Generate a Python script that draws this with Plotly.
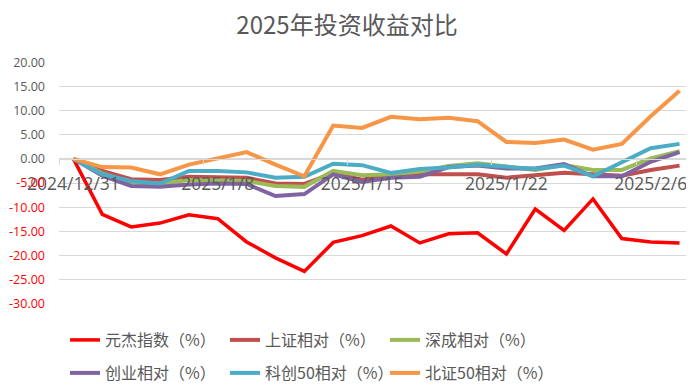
import plotly.graph_objects as go

dates = ["2024/12/31", "2025/1/2", "2025/1/3", "2025/1/6", "2025/1/7", "2025/1/8",
         "2025/1/9", "2025/1/10", "2025/1/13", "2025/1/14", "2025/1/15", "2025/1/16",
         "2025/1/17", "2025/1/20", "2025/1/21", "2025/1/22", "2025/1/23", "2025/1/24",
         "2025/1/27", "2025/2/5", "2025/2/6", "2025/2/7"]

yuanjie = [0, -11.5, -14.1, -13.3, -11.6, -12.4, -17.2, -20.5, -23.3, -17.3, -15.9,
           -13.9, -17.4, -15.5, -15.3, -19.7, -10.4, -14.8, -8.3, -16.5, -17.2, -17.4]
shangzheng = [0, -2.5, -4.2, -4.4, -3.7, -3.7, -3.9, -5.1, -5.2, -3.0, -4.3,
              -3.5, -3.2, -3.2, -3.2, -3.9, -3.5, -2.9, -3.2, -3.5, -2.3, -1.4]
shencheng = [0, -3.0, -4.9, -5.1, -4.4, -4.4, -4.6, -5.6, -5.8, -2.5, -3.4,
             -3.2, -2.6, -1.5, -0.9, -1.6, -2.3, -1.3, -2.3, -2.3, 0.1, 1.6]
chuangye = [0, -3.5, -5.6, -5.8, -5.3, -5.1, -5.2, -7.7, -7.3, -3.2, -4.8,
            -3.9, -3.7, -1.7, -1.4, -2.0, -2.0, -1.1, -3.6, -3.6, -0.6, 1.4]
kechuang50 = [0, -3.2, -4.6, -5.1, -2.5, -2.5, -2.8, -3.9, -3.7, -1.0, -1.3,
              -2.9, -2.1, -1.8, -1.2, -1.6, -2.1, -1.4, -3.6, -0.7, 2.2, 3.1]
beizheng50 = [0, -1.7, -1.8, -3.2, -1.2, 0.0, 1.4, -1.2, -3.6, 6.9, 6.4,
              8.7, 8.2, 8.5, 7.8, 3.5, 3.3, 4.0, 1.9, 3.1, 8.8, 14.1]

series_names = ["元杰指数（%）", "上证相对（%）", "深成相对（%）",
                "创业相对（%）", "科创50相对（%）", "北证50相对（%）"]
series_values = [yuanjie, shangzheng, shencheng, chuangye, kechuang50, beizheng50]
colors = ["#FF0000", "#C0504D", "#9BBB59", "#8064A2", "#4BACC6", "#F79646"]
widths = [3.5, 4, 4, 4, 4, 4]
legends = ["legend", "legend", "legend", "legend2", "legend2", "legend2"]

y_ticks = [20, 15, 10, 5, 0, -5, -10, -15, -20, -25, -30]
x_label_idx = [0, 5, 10, 15, 20]

x = list(range(len(dates)))

fig = go.Figure()
for name, vals, col, w, lg in zip(series_names, series_values, colors, widths, legends):
    fig.add_trace(go.Scatter(x=x, y=vals, mode="lines", name=name,
                             line=dict(color=col, width=w), legend=lg))

gray = "#595959"
y_text = []
for v in y_ticks:
    s = f"{v:.2f}"
    if v < 0:
        s = f'<span style="color:#FF0000">{s}</span>'
    y_text.append(s)

W, H = 686, 381  # page body has an 8px margin

legend_common = dict(orientation="h", xref="container", yref="container",
                     xanchor="left", yanchor="middle",
                     entrywidth=115, entrywidthmode="pixels", bgcolor="rgba(0,0,0,0)",
                     font=dict(family="Noto Sans CJK SC", size=16, color=gray))

fig.update_layout(
    width=W, height=H,
    margin=dict(l=51, r=0, t=54, b=85, autoexpand=False),
    paper_bgcolor="white", plot_bgcolor="white",
    title=dict(text="2025年投资收益对比", x=339 / W, xref="container", xanchor="center",
               y=1 - 18 / H, yref="container", yanchor="middle",
               font=dict(family="Noto Sans CJK SC", size=24, color=gray)),
    xaxis=dict(range=[-0.5, len(dates) - 0.5], anchor="free", position=0.6,
               showgrid=False, zeroline=False, showline=True, linecolor="#D9D9D9", linewidth=1,
               tickmode="array", tickvals=x_label_idx, ticktext=[dates[i] for i in x_label_idx],
               ticks="", ticklabelstandoff=9, automargin=False,
               tickfont=dict(family="Open Sans", size=17.5, color=gray),
               minor=dict(tickmode="array", tickvals=[i - 0.5 for i in x_label_idx],
                          ticks="outside", ticklen=5, tickcolor="#D9D9D9", showgrid=False)),
    yaxis=dict(range=[-30.05, 20.05], tickmode="array", tickvals=y_ticks, ticktext=y_text,
               showgrid=True, gridcolor="#D9D9D9", gridwidth=1, zeroline=False,
               showline=False, ticks="", ticklabelstandoff=13, automargin=False,
               tickfont=dict(family="Open Sans", size=12.5, color=gray)),
    legend=dict(x=57 / W, y=1 - 332 / H, **legend_common),
    legend2=dict(x=57 / W, y=1 - 365 / H, **legend_common),
    showlegend=True,
)

fig.write_html("out.html")
